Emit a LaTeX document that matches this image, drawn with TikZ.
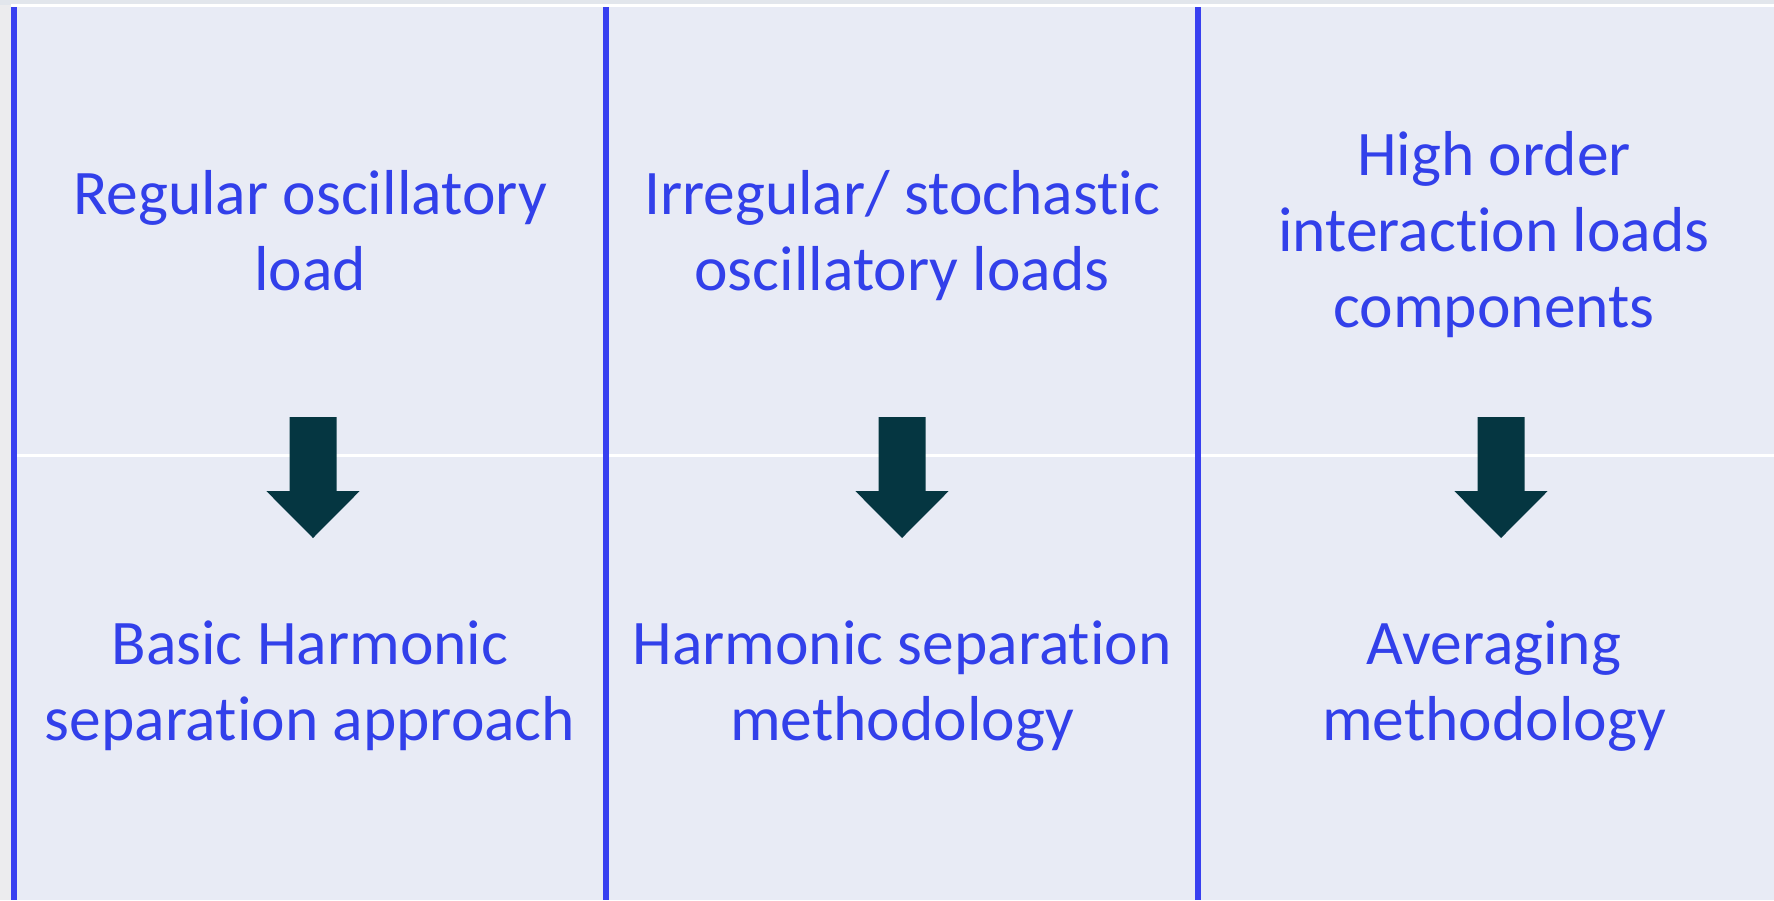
\documentclass[tikz,border=0pt]{standalone}
\usepackage{fontspec}
\setmainfont{Carlito}[Ligatures=NoCommon]
\definecolor{panelfill}{RGB}{232,235,245}
\definecolor{barblue}{RGB}{56,64,240}
\definecolor{txtblue}{RGB}{50,64,234}
\definecolor{arrowteal}{RGB}{5,54,65}
\definecolor{edgegrey}{RGB}{236,236,238}
\definecolor{topstrip}{RGB}{226,230,236}
\begin{document}
\begin{tikzpicture}[x=1pt,y=-1pt,
  lbl/.style={anchor=base,inner sep=0pt,text=txtblue,font=\fontsize{63.5pt}{76pt}\selectfont},
  downarrow/.style={fill=arrowteal},
  divider/.style={fill=barblue}]
\useasboundingbox (0,0) rectangle (1774,900);
% background
\fill[edgegrey] (0,0) rectangle (1774,900);
\fill[topstrip] (0,0) rectangle (1774,5);
\fill[panelfill] (11,7) rectangle (1774,900);
\fill[white] (11,4) rectangle (1774,7);
\fill[white] (17,454) rectangle (1774,457);
% vertical dividers
\fill[divider] (11.3,7) rectangle (17.3,900);
\fill[divider] (603,7) rectangle (609,900);
\fill[divider] (1195,7) rectangle (1201,900);
% arrows
\foreach \cx in {313,902,1501}{
  \fill[downarrow] (\cx-23.5,417) -- (\cx+23.5,417) -- (\cx+23.5,491) -- (\cx+46.7,491)
    -- (\cx,538) -- (\cx-46.7,491) -- (\cx-23.5,491) -- cycle;
}
% top texts
\node[lbl] (t1a) at (310,214) {Regular oscillatory};
\node[lbl] (t1b) at (310,290) {load};
\node[lbl] (t2a) at (902,214) {Irregular/ stochastic};
\node[lbl] (t2b) at (902,290) {oscillatory loads};
\node[lbl] (t3a) at (1494,175) {High order};
\node[lbl] (t3b) at (1494,251) {interaction loads};
\node[lbl] (t3c) at (1494,327) {components};
% bottom texts
\node[lbl] (b1a) at (310,664) {Basic Harmonic};
\node[lbl] (b1b) at (310,740) {separation approach};
\node[lbl] (b2a) at (902,664) {Harmonic separation};
\node[lbl] (b2b) at (902,740) {methodology};
\node[lbl] (b3a) at (1494,664) {Averaging};
\node[lbl] (b3b) at (1494,740) {methodology};
\end{tikzpicture}
\end{document}
